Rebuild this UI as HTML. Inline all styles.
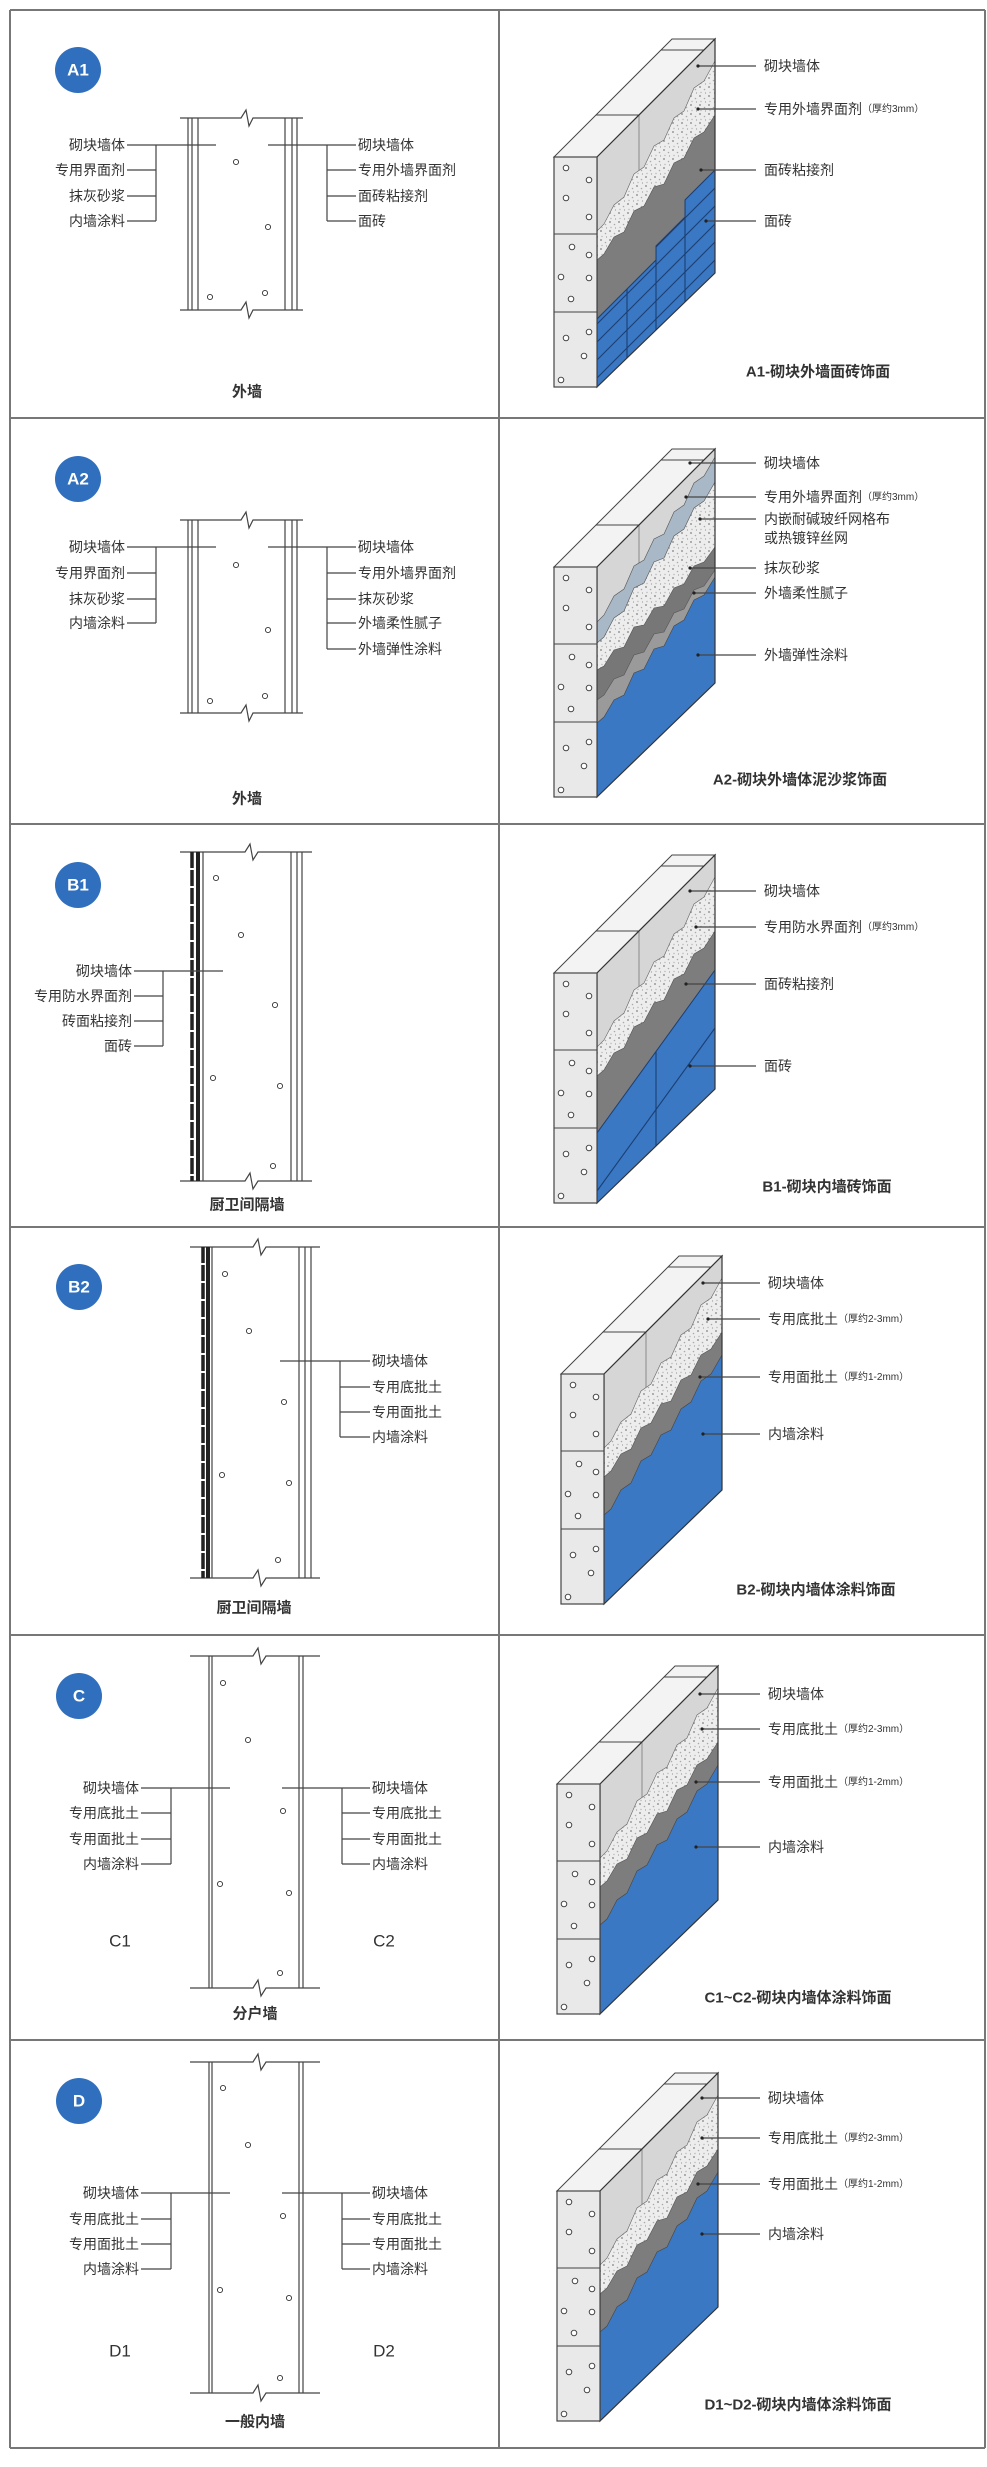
<!DOCTYPE html>
<html><head><meta charset="utf-8"><style>
html,body{margin:0;padding:0;background:#fff;}
svg{display:block;}
text{font-family:"Liberation Sans","Noto Sans CJK SC",sans-serif;fill:#333;}
.l{font-size:14px;}
.s{font-size:10px;}
.cap{font-size:15px;font-weight:bold;}
.bd{font-size:17px;font-weight:bold;fill:#fff;}
</style></head><body>
<svg width="987" height="2467" viewBox="0 0 987 2467" xmlns="http://www.w3.org/2000/svg">
<defs>
<clipPath id="side"><polygon points="43,0 161,-118 161,116 43,230"/></clipPath>
<clipPath id="tA1"><polygon points="161,13 131,43 131,60 102,89 102,103 73,132 43,162 43,240 161,240"/></clipPath>
<clipPath id="tB1"><polygon points="161,-3 43,160 43,240 161,240"/></clipPath>
<pattern id="speck" width="9" height="9" patternUnits="userSpaceOnUse">
<rect width="9" height="9" fill="#ededed"/>
<circle cx="2" cy="2" r="1" fill="#9a9a9a"/><circle cx="6.5" cy="4.5" r="0.8" fill="#aaa"/>
<circle cx="3" cy="7.5" r="0.7" fill="#b5b5b5"/><circle cx="7.5" cy="8" r="0.6" fill="#999"/>
</pattern>
<g id="base">
<polygon points="0,0 43,0 161,-118 118,-118" fill="#f3f3f3" stroke="#444" stroke-width="1"/>
<line x1="42" y1="-42" x2="85" y2="-42" stroke="#444"/>
<line x1="107" y1="-107" x2="150" y2="-107" stroke="#444"/>
<polygon points="43,0 161,-118 161,116 43,230" fill="#d6d6d6"/>
<line x1="85" y1="-42" x2="85" y2="80" stroke="#777" stroke-width="0.8"/>
</g>
<g id="front">
<polygon points="43,0 161,-118 161,116 43,230" fill="none" stroke="#333" stroke-width="1.2"/>
<rect x="0" y="0" width="43" height="230" fill="#e9e9e9" stroke="#444" stroke-width="1.2"/>
<line x1="0" y1="77" x2="43" y2="77" stroke="#444"/>
<line x1="0" y1="155" x2="43" y2="155" stroke="#444"/>
<g fill="#fff" stroke="#333" stroke-width="0.9">
<circle cx="12" cy="11" r="2.8"/><circle cx="35" cy="23" r="2.8"/><circle cx="12" cy="41" r="2.8"/><circle cx="35" cy="60" r="2.8"/>
<circle cx="18" cy="90" r="2.8"/><circle cx="35" cy="98" r="2.8"/><circle cx="7" cy="120" r="2.8"/><circle cx="35" cy="121" r="2.8"/>
<circle cx="17" cy="142" r="2.8"/><circle cx="35" cy="175" r="2.8"/><circle cx="12" cy="181" r="2.8"/><circle cx="30" cy="199" r="2.8"/><circle cx="7" cy="223" r="2.8"/>
</g>
</g>
<g id="plaster"><polygon points="161,-96 150,-76 140,-69 130,-46 120,-39 110,-17 100,-11 90,10 80,17 70,40 60,48 50,67 43,74 43,240 161,240" fill="url(#speck)" stroke="#666" stroke-width="0.6"/></g>
<g id="dark"><polygon points="161,-42 150,-25 140,-19 130,1 120,6 110,27 100,30 90,49 80,54 70,75 60,80 50,97 43,103 43,240 161,240" fill="#7d7d7d" stroke="#555" stroke-width="0.6"/></g>
<g id="paint">
<use href="#base"/>
<g clip-path="url(#side)">
<use href="#plaster"/><use href="#dark"/>
<polygon points="161,-19 150,0 140,7 130,28 120,35 110,56 100,61 90,81 80,87 70,109 60,116 50,135 43,141 43,240 161,240" fill="#3b78c3" stroke="#444" stroke-width="0.6"/>
</g>
<use href="#front"/>
</g>
<g id="a1">
<use href="#base"/>
<g clip-path="url(#side)">
<use href="#plaster"/><use href="#dark"/>
<polygon points="161,13 131,43 131,60 102,89 102,103 73,132 43,162 43,240 161,240" fill="#3b78c3" stroke="#1b3f73" stroke-width="1"/>
<g clip-path="url(#tA1)" stroke="#1b3f73" stroke-width="1.1">
<line x1="43" y1="149" x2="161" y2="31"/><line x1="43" y1="167" x2="161" y2="49"/><line x1="43" y1="185" x2="161" y2="67"/>
<line x1="43" y1="203" x2="161" y2="85"/><line x1="43" y1="221" x2="161" y2="103"/><line x1="43" y1="239" x2="161" y2="121"/>
<line x1="43" y1="257" x2="161" y2="139"/><line x1="43" y1="275" x2="161" y2="157"/><line x1="43" y1="293" x2="161" y2="175"/>
<line x1="73" y1="0" x2="73" y2="260"/><line x1="102" y1="0" x2="102" y2="260"/><line x1="131" y1="0" x2="131" y2="260"/>
</g>
</g>
<use href="#front"/>
</g>
<g id="a2">
<use href="#base"/>
<g clip-path="url(#side)" stroke="#555" stroke-width="0.6">
<polygon points="161,-110 150,-91 140,-84 130,-62 120,-55 110,-33 100,-28 90,-7 80,-1 70,22 60,29 50,48 43,55 43,240 161,240" fill="#a9b8c6"/>
<polygon points="161,-85 150,-66 140,-59 130,-38 120,-31 110,-9 100,-5 90,16 80,21 70,44 60,51 50,70 43,76 43,240 161,240" fill="url(#speck)"/>
<polygon points="161,-20 150,-5 140,-1 130,17 120,21 110,39 100,41 90,58 80,60 70,80 60,83 50,99 43,103 43,240 161,240" fill="#777"/>
<polygon points="161,3 150,19 140,23 130,42 120,46 110,65 100,67 90,85 80,88 70,108 60,112 50,128 43,133 43,240 161,240" fill="#9a9a9a"/>
<polygon points="161,10 150,28 140,33 130,53 120,59 110,79 100,82 90,102 80,106 70,128 60,133 50,150 43,156 43,240 161,240" fill="#3b78c3" stroke="#444"/>
</g>
<use href="#front"/>
</g>
<g id="b1">
<use href="#base"/>
<g clip-path="url(#side)">
<use href="#plaster"/><use href="#dark"/>
<polygon points="161,-3 43,160 43,240 161,240" fill="#3b78c3" stroke="#1b3f73" stroke-width="1"/>
<g clip-path="url(#tB1)" stroke="#1b3f73" stroke-width="1.1">
<line x1="161" y1="55" x2="43" y2="218"/><line x1="102" y1="0" x2="102" y2="260"/>
</g>
</g>
<use href="#front"/>
</g>
</defs>

<!-- grid -->
<g stroke="#777" stroke-width="2" fill="none">
<line x1="10" y1="10" x2="10" y2="2448"/><line x1="499" y1="10" x2="499" y2="2448"/><line x1="985" y1="10" x2="985" y2="2448"/>
<line x1="10" y1="10" x2="985" y2="10"/><line x1="10" y1="418" x2="985" y2="418"/><line x1="10" y1="824" x2="985" y2="824"/>
<line x1="10" y1="1227" x2="985" y2="1227"/><line x1="10" y1="1635" x2="985" y2="1635"/><line x1="10" y1="2040" x2="985" y2="2040"/>
<line x1="10" y1="2448" x2="985" y2="2448"/>
</g>

<!-- badges -->
<g fill="#2f6fbd">
<circle cx="78" cy="70" r="23"/><circle cx="78" cy="479" r="23"/><circle cx="78" cy="885" r="23"/>
<circle cx="79" cy="1287" r="23"/><circle cx="79" cy="1696" r="23"/><circle cx="79" cy="2101" r="23"/>
</g>
<g text-anchor="middle" dominant-baseline="central">
<text class="bd" x="78" y="70">A1</text><text class="bd" x="78" y="479">A2</text><text class="bd" x="78" y="885">B1</text>
<text class="bd" x="79" y="1287">B2</text><text class="bd" x="79" y="1696">C</text><text class="bd" x="79" y="2101">D</text>
</g>

<!-- section drawings -->
<g stroke="#444" stroke-width="1.2" fill="none">
<!-- A1 -->
<path d="M180,118 H241 L246,110 L249,126 L253,118 H303 M180,310 H241 L246,302 L249,318 L253,310 H303"/>
<path d="M188,118V310 M192,118V310 M198,118V310 M285,118V310 M292,118V310 M297,118V310"/>
<!-- A2 -->
<path d="M180,520 H241 L246,512 L249,528 L253,520 H303 M180,713 H241 L246,705 L249,721 L253,713 H303"/>
<path d="M188,520V713 M192,520V713 M198,520V713 M285,520V713 M292,520V713 M297,520V713"/>
<!-- B1 -->
<path d="M180,852 H245 L250,844 L253,860 L258,852 H312 M180,1181 H245 L250,1173 L253,1189 L258,1181 H312"/>
<path d="M203,852V1181 M291,852V1181 M297,852V1181 M302,852V1181"/>
<!-- B2 -->
<path d="M190,1247 H253 L258,1239 L261,1255 L266,1247 H320 M190,1578 H253 L258,1570 L261,1586 L266,1578 H320"/>
<path d="M212,1247V1578 M299,1247V1578 M305,1247V1578 M311,1247V1578"/>
<!-- C -->
<path d="M190,1656 H253 L258,1648 L261,1664 L266,1656 H320 M190,1988 H253 L258,1980 L261,1996 L266,1988 H320"/>
<path d="M209,1656V1988 M212,1656V1988 M299,1656V1988 M303,1656V1988"/>
<!-- D -->
<path d="M190,2062 H253 L258,2054 L261,2070 L266,2062 H320 M190,2393 H253 L258,2385 L261,2401 L266,2393 H320"/>
<path d="M209,2062V2393 M212,2062V2393 M299,2062V2393 M303,2062V2393"/>
</g>
<g stroke="#222">
<line x1="192" y1="852" x2="192" y2="1181" stroke-width="3.5" stroke-dasharray="16 2"/>
<rect x="196" y="852" width="4" height="329" fill="#222" stroke="none"/>
<line x1="203" y1="1247" x2="203" y2="1578" stroke-width="3.5" stroke-dasharray="16 2"/>
<rect x="206" y="1247" width="4" height="331" fill="#222" stroke="none"/>
</g>
<g fill="#fff" stroke="#333" stroke-width="0.9">
<circle cx="236" cy="162" r="2.6"/><circle cx="268" cy="227" r="2.6"/><circle cx="210" cy="297" r="2.6"/><circle cx="265" cy="293" r="2.6"/>
<circle cx="236" cy="565" r="2.6"/><circle cx="268" cy="630" r="2.6"/><circle cx="210" cy="701" r="2.6"/><circle cx="265" cy="696" r="2.6"/>
<circle cx="216" cy="878" r="2.6"/><circle cx="241" cy="935" r="2.6"/><circle cx="275" cy="1005" r="2.6"/><circle cx="213" cy="1078" r="2.6"/><circle cx="280" cy="1086" r="2.6"/><circle cx="273" cy="1166" r="2.6"/>
<circle cx="225" cy="1274" r="2.6"/><circle cx="249" cy="1331" r="2.6"/><circle cx="284" cy="1402" r="2.6"/><circle cx="222" cy="1475" r="2.6"/><circle cx="289" cy="1483" r="2.6"/><circle cx="278" cy="1560" r="2.6"/>
<circle cx="223" cy="1683" r="2.6"/><circle cx="248" cy="1740" r="2.6"/><circle cx="283" cy="1811" r="2.6"/><circle cx="220" cy="1884" r="2.6"/><circle cx="289" cy="1893" r="2.6"/><circle cx="280" cy="1973" r="2.6"/>
<circle cx="223" cy="2088" r="2.6"/><circle cx="248" cy="2145" r="2.6"/><circle cx="283" cy="2216" r="2.6"/><circle cx="220" cy="2290" r="2.6"/><circle cx="289" cy="2298" r="2.6"/><circle cx="280" cy="2378" r="2.6"/>
</g>

<!-- section leaders -->
<g stroke="#444" stroke-width="1.2" fill="none">
<path d="M127,145H216 M127,170H156 M127,196H156 M127,221H156 M156,145V221"/>
<path d="M268,145H356 M327,145V221 M327,170H356 M327,196H356 M327,221H356"/>
<path d="M127,547H216 M127,573H156 M127,599H156 M127,623H156 M156,547V623"/>
<path d="M268,547H356 M327,547V649 M327,573H356 M327,599H356 M327,623H356 M327,649H356"/>
<path d="M134,971H223 M134,996H163 M134,1021H163 M134,1046H163 M163,971V1046"/>
<path d="M280,1361H370 M340,1361V1437 M340,1387H370 M340,1412H370 M340,1437H370"/>
<path d="M141,1788H230 M141,1813H171 M141,1839H171 M141,1864H171 M171,1788V1864"/>
<path d="M282,1788H370 M342,1788V1864 M342,1813H370 M342,1839H370 M342,1864H370"/>
<path d="M141,2193H230 M141,2219H171 M141,2244H171 M141,2269H171 M171,2193V2269"/>
<path d="M282,2193H370 M342,2193V2269 M342,2219H370 M342,2244H370 M342,2269H370"/>
</g>

<!-- section labels -->
<g class="l" dominant-baseline="central">
<g text-anchor="end">
<text x="125" y="145">砌块墙体</text><text x="125" y="170">专用界面剂</text><text x="125" y="196">抹灰砂浆</text><text x="125" y="221">内墙涂料</text>
<text x="125" y="547">砌块墙体</text><text x="125" y="573">专用界面剂</text><text x="125" y="599">抹灰砂浆</text><text x="125" y="623">内墙涂料</text>
<text x="132" y="971">砌块墙体</text><text x="132" y="996">专用防水界面剂</text><text x="132" y="1021">砖面粘接剂</text><text x="132" y="1046">面砖</text>
<text x="139" y="1788">砌块墙体</text><text x="139" y="1813">专用底批土</text><text x="139" y="1839">专用面批土</text><text x="139" y="1864">内墙涂料</text>
<text x="139" y="2193">砌块墙体</text><text x="139" y="2219">专用底批土</text><text x="139" y="2244">专用面批土</text><text x="139" y="2269">内墙涂料</text>
</g>
<text x="358" y="145">砌块墙体</text><text x="358" y="170">专用外墙界面剂</text><text x="358" y="196">面砖粘接剂</text><text x="358" y="221">面砖</text>
<text x="358" y="547">砌块墙体</text><text x="358" y="573">专用外墙界面剂</text><text x="358" y="599">抹灰砂浆</text><text x="358" y="623">外墙柔性腻子</text><text x="358" y="649">外墙弹性涂料</text>
<text x="372" y="1361">砌块墙体</text><text x="372" y="1387">专用底批土</text><text x="372" y="1412">专用面批土</text><text x="372" y="1437">内墙涂料</text>
<text x="372" y="1788">砌块墙体</text><text x="372" y="1813">专用底批土</text><text x="372" y="1839">专用面批土</text><text x="372" y="1864">内墙涂料</text>
<text x="372" y="2193">砌块墙体</text><text x="372" y="2219">专用底批土</text><text x="372" y="2244">专用面批土</text><text x="372" y="2269">内墙涂料</text>
</g>
<g dominant-baseline="central" style="font-size:17px">
<text x="120" y="1941" text-anchor="middle" style="font-size:17px">C1</text><text x="384" y="1941" text-anchor="middle" style="font-size:17px">C2</text>
<text x="120" y="2351" text-anchor="middle" style="font-size:17px">D1</text><text x="384" y="2351" text-anchor="middle" style="font-size:17px">D2</text>
</g>
<g class="cap" text-anchor="middle" dominant-baseline="central">
<text x="247" y="392">外墙</text><text x="247" y="799">外墙</text><text x="247" y="1205">厨卫间隔墙</text>
<text x="254" y="1608">厨卫间隔墙</text><text x="255" y="2014">分户墙</text><text x="255" y="2422">一般内墙</text>
</g>

<!-- 3D blocks -->
<use href="#a1" transform="translate(554,157)"/>
<use href="#a2" transform="translate(554,567)"/>
<use href="#b1" transform="translate(554,973)"/>
<use href="#paint" transform="translate(561,1374)"/>
<use href="#paint" transform="translate(557,1784)"/>
<use href="#paint" transform="translate(557,2191)"/>

<!-- 3D leaders -->
<g stroke="#444" stroke-width="1.2">
<path d="M698,66H756 M698,109H756 M701,170H756 M706,221H756"/>
<path d="M690,463H756 M686,497H756 M700,519H756 M690,568H756 M694,593H756 M698,655H756"/>
<path d="M690,891H756 M696,927H756 M686,984H756 M690,1066H756"/>
<path d="M703,1283H760 M708,1319H760 M700,1377H760 M703,1434H760"/>
<path d="M700,1694H760 M702,1729H760 M696,1782H760 M696,1847H760"/>
<path d="M702,2098H760 M702,2138H760 M698,2184H760 M702,2234H760"/>
</g>
<g fill="#222">
<circle cx="698" cy="66" r="1.6"/><circle cx="698" cy="109" r="1.6"/><circle cx="701" cy="170" r="1.6"/><circle cx="706" cy="221" r="1.6"/>
<circle cx="690" cy="463" r="1.6"/><circle cx="686" cy="497" r="1.6"/><circle cx="700" cy="519" r="1.6"/><circle cx="690" cy="568" r="1.6"/><circle cx="694" cy="593" r="1.6"/><circle cx="698" cy="655" r="1.6"/>
<circle cx="690" cy="891" r="1.6"/><circle cx="696" cy="927" r="1.6"/><circle cx="686" cy="984" r="1.6"/><circle cx="690" cy="1066" r="1.6"/>
<circle cx="703" cy="1283" r="1.6"/><circle cx="708" cy="1319" r="1.6"/><circle cx="700" cy="1377" r="1.6"/><circle cx="703" cy="1434" r="1.6"/>
<circle cx="700" cy="1694" r="1.6"/><circle cx="702" cy="1729" r="1.6"/><circle cx="696" cy="1782" r="1.6"/><circle cx="696" cy="1847" r="1.6"/>
<circle cx="702" cy="2098" r="1.6"/><circle cx="702" cy="2138" r="1.6"/><circle cx="698" cy="2184" r="1.6"/><circle cx="702" cy="2234" r="1.6"/>
</g>
<g class="l" dominant-baseline="central">
<text x="764" y="66">砌块墙体</text><text x="764" y="109">专用外墙界面剂<tspan class="s">（厚约3mm）</tspan></text><text x="764" y="170">面砖粘接剂</text><text x="764" y="221">面砖</text>
<text x="764" y="463">砌块墙体</text><text x="764" y="497">专用外墙界面剂<tspan class="s">（厚约3mm）</tspan></text><text x="764" y="519">内嵌耐碱玻纤网格布</text><text x="764" y="538">或热镀锌丝网</text><text x="764" y="568">抹灰砂浆</text><text x="764" y="593">外墙柔性腻子</text><text x="764" y="655">外墙弹性涂料</text>
<text x="764" y="891">砌块墙体</text><text x="764" y="927">专用防水界面剂<tspan class="s">（厚约3mm）</tspan></text><text x="764" y="984">面砖粘接剂</text><text x="764" y="1066">面砖</text>
<text x="768" y="1283">砌块墙体</text><text x="768" y="1319">专用底批土<tspan class="s">（厚约2-3mm）</tspan></text><text x="768" y="1377">专用面批土<tspan class="s">（厚约1-2mm）</tspan></text><text x="768" y="1434">内墙涂料</text>
<text x="768" y="1694">砌块墙体</text><text x="768" y="1729">专用底批土<tspan class="s">（厚约2-3mm）</tspan></text><text x="768" y="1782">专用面批土<tspan class="s">（厚约1-2mm）</tspan></text><text x="768" y="1847">内墙涂料</text>
<text x="768" y="2098">砌块墙体</text><text x="768" y="2138">专用底批土<tspan class="s">（厚约2-3mm）</tspan></text><text x="768" y="2184">专用面批土<tspan class="s">（厚约1-2mm）</tspan></text><text x="768" y="2234">内墙涂料</text>
</g>
<g class="cap" text-anchor="middle" dominant-baseline="central">
<text x="818" y="372">A1-砌块外墙面砖饰面</text>
<text x="800" y="780">A2-砌块外墙体泥沙浆饰面</text>
<text x="827" y="1187">B1-砌块内墙砖饰面</text>
<text x="816" y="1590">B2-砌块内墙体涂料饰面</text>
<text x="798" y="1998">C1~C2-砌块内墙体涂料饰面</text>
<text x="798" y="2405">D1~D2-砌块内墙体涂料饰面</text>
</g>
</svg>
</body></html>
